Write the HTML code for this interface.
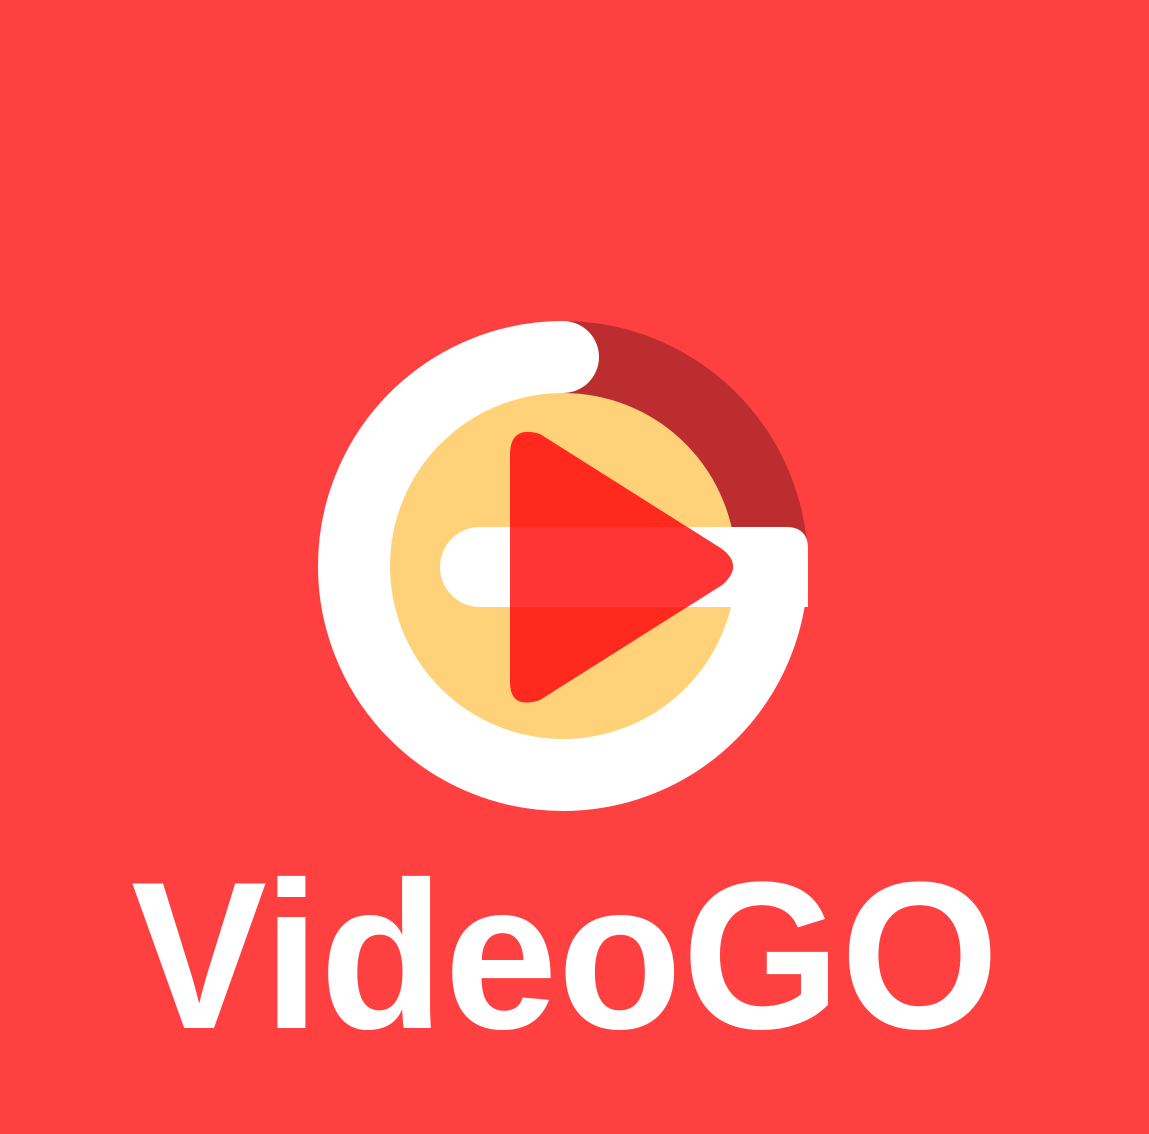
<!DOCTYPE html>
<html><head><meta charset="utf-8"><style>
html,body{margin:0;padding:0;background:#FF4040;}
svg{display:block;}
</style></head><body>
<svg width="1149" height="1134" viewBox="0 0 1149 1134">
  <rect x="0" y="0" width="1149" height="1134" fill="#FF4040"/>
  <circle cx="563" cy="566" r="174" fill="#FFD27A"/>
  <path d="M563 357 A209 209 0 0 1 772 566" fill="none" stroke="#BB2D2E" stroke-width="72"/>
  <path d="M563 357 A209 209 0 1 0 772 566" fill="none" stroke="#FFFFFF" stroke-width="72"/>
  <circle cx="563" cy="357" r="36" fill="#FFFFFF"/>
  <path d="M480 527 L786 527 Q808 527 808 549 L808 607 L480 607 A40 40 0 0 1 480 527 Z" fill="#FFFFFF"/>
  <defs>
    <clipPath id="tri">
      <path d="M510 455 Q510 425 540 434 L722 549 Q744 566 722 585 L540 700 Q510 710 510 682 Z"/>
    </clipPath>
  </defs>
  <path d="M510 455 Q510 425 540 434 L722 549 Q744 566 722 585 L540 700 Q510 710 510 682 Z" fill="#FF2A1D"/>
  <rect x="500" y="527" width="260" height="80" fill="#FF3535" clip-path="url(#tri)"/>
  <text x="565" y="1028" text-anchor="middle" font-family="'Liberation Sans', sans-serif" font-weight="bold" font-size="210" textLength="868" lengthAdjust="spacingAndGlyphs" fill="#FFFFFF">VideoGO</text>
</svg>
</body></html>
